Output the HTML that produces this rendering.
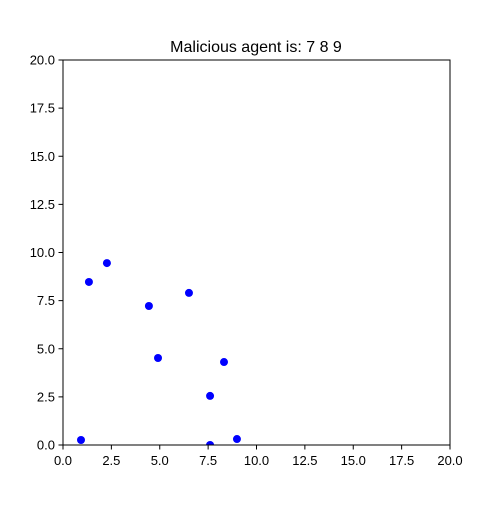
<!DOCTYPE html>
<html><head><meta charset="utf-8"><style>
body{margin:0;background:#fff;}
text{font-family:"Liberation Sans","DejaVu Sans",sans-serif;font-size:13px;fill:#000;}
</style></head><body>
<svg id="chart" width="500" height="500" xmlns="http://www.w3.org/2000/svg">
<defs><clipPath id="clip"><rect x="63" y="60" width="387" height="385"/></clipPath></defs>
<rect width="500" height="500" fill="#fff"/>
<text x="256" y="52" text-anchor="middle" style="font-size:16px">Malicious agent is: 7 8 9</text>
<g id="xticks"></g>
<g id="yticks"></g>
<g id="points" clip-path="url(#clip)"></g>
<rect x="63" y="60" width="387" height="385" fill="none" stroke="#000" stroke-width="1"/>
</svg>
<script>
const xs=[0.93,1.34,2.27,4.44,4.91,6.51,7.6,7.6,8.32,8.99];
const ys=[0.26,8.47,9.45,7.22,4.52,7.9,2.55,0,4.31,0.31];
const ticks=[0,2.5,5,7.5,10,12.5,15,17.5,20];
const tickLabels=["0.0","2.5","5.0","7.5","10.0","12.5","15.0","17.5","20.0"];
const NS="http://www.w3.org/2000/svg";
const X=v=>63+v/20*387, Y=v=>445-v/20*385;
function mk(t,a,p){const e=document.createElementNS(NS,t);for(const k in a)e.setAttribute(k,a[k]);p.appendChild(e);return e;}
const gx=document.getElementById('xticks'),gy=document.getElementById('yticks'),gp=document.getElementById('points');
ticks.forEach((t,i)=>{
 const l=mk('line',{x1:X(t),x2:X(t),y1:445,y2:449.5,stroke:'#000'},gx);
 
 
 const tx=mk('text',{x:X(t),y:465,'text-anchor':'middle'},gx);tx.textContent=tickLabels[i];
 
 
 const l2=mk('line',{x1:58.5,x2:63,y1:Y(t),y2:Y(t),stroke:'#000'},gy);
 
 
 const ty=mk('text',{x:55,y:Y(t)+4.5,'text-anchor':'end'},gy);ty.textContent=tickLabels[i];
 
 
});
xs.forEach((x,i)=>{
 const c=mk('circle',{cx:X(x),cy:Y(ys[i]),r:4,fill:'#0000ff'},gp);
 
 
});
</script>
</body></html>
